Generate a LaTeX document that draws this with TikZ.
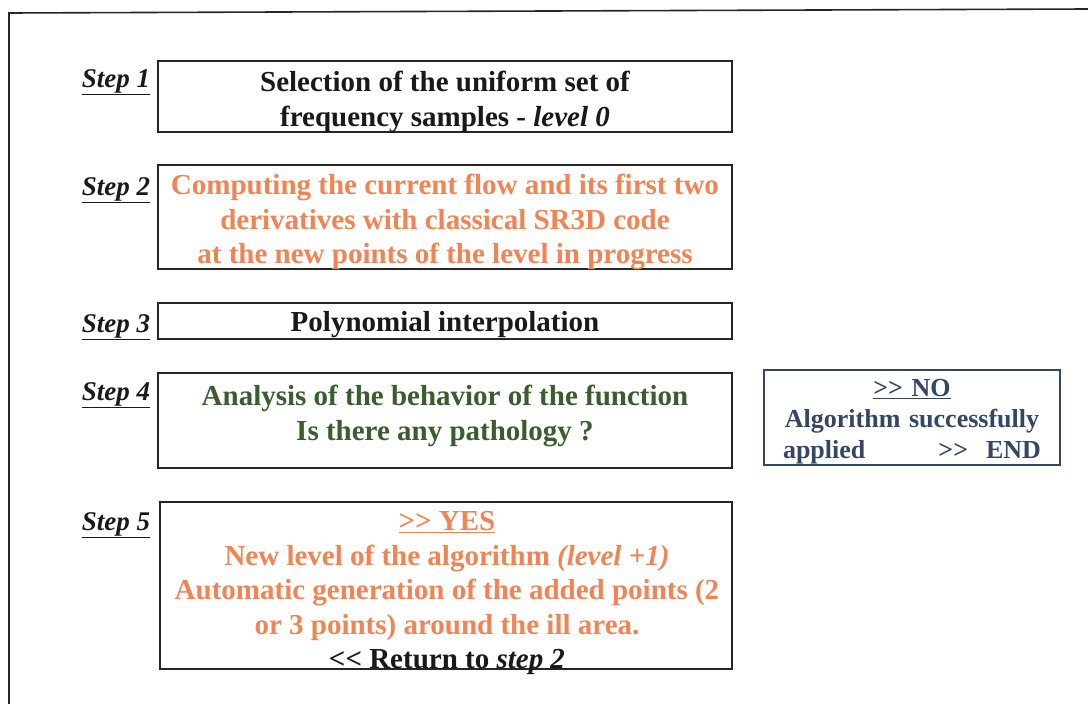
\documentclass[tikz,border=0pt]{standalone}
\usepackage{fontspec}
\setmainfont{Liberation Serif}
\definecolor{orng}{RGB}{240,132,84}
\definecolor{grn}{RGB}{58,92,46}
\definecolor{bluegr}{RGB}{52,70,98}
\definecolor{txtdark}{RGB}{25,25,25}
\tikzset{
  stepbox/.style={draw=black!85, line width=1.6pt, inner sep=0pt},
  steplabel/.style={font=\fontsize{27}{30}\selectfont\bfseries\itshape, text=txtdark, inner sep=0pt},
  boxtext/.style={font=\fontsize{29}{34.5}\selectfont\bfseries, align=center, inner sep=0pt},
}
\begin{document}
\begin{tikzpicture}[x=1pt,y=-1pt]
\useasboundingbox (0,0) rectangle (1088,704);
% outer frame
\coordinate (fa) at (1088,9);
\coordinate (fb) at (9,13);
\coordinate (fc) at (9,704);
\draw[line width=1.6pt, black!85] (fa) -- (fb) -- (fc);

% boxes
\node[stepbox, minimum width=574, minimum height=71] (box1) at (445,96.5) {};
\node[stepbox, minimum width=574, minimum height=104] (box2) at (445,217) {};
\node[stepbox, minimum width=574, minimum height=36] (box3) at (445,321) {};
\node[stepbox, minimum width=574, minimum height=95] (box4) at (445,420.5) {};
\node[stepbox, minimum width=572, minimum height=167] (box5) at (446,585.5) {};
\node[stepbox, draw=bluegr, minimum width=296, minimum height=95] (box6) at (912,417.5) {};

% step labels
\node[steplabel] (s1) at (116,82) {\underline{Step 1}};
\node[steplabel] (s2) at (116,190) {\underline{Step 2}};
\node[steplabel] (s3) at (116,327) {\underline{Step 3}};
\node[steplabel] (s4) at (116,395) {\underline{Step 4}};
\node[steplabel] (s5) at (116,525) {\underline{Step 5}};

% texts
\node[boxtext, text=txtdark] (t1) at (445,102) {Selection of the uniform set of\\frequency samples - \textit{level 0}};
\node[boxtext, text=orng] (t2) at (445,222) {Computing the current flow and its first two\\derivatives with classical SR3D code\\at the new points of the level in progress};
\node[boxtext, text=txtdark] (t3) at (445,325) {Polynomial interpolation};
\node[boxtext, text=grn] (t4) at (445,416) {Analysis of the behavior of the function\\Is there any pathology ?};
\node[boxtext, text=orng] (t5) at (447,593) {\underline{{>}{>} YES}\\New level of the algorithm \textit{(level +1)}\\Automatic generation of the added points (2\\or 3 points) around the ill area.\\\textcolor{txtdark}{{<}{<} Return to \textit{step 2}}};
\node[font=\fontsize{26}{31}\selectfont\bfseries, text=bluegr, align=center, inner sep=0pt, text width=258] (t6) at (912,422) {\underline{{>}{>} NO}\\Algorithm successfully\\applied\hfill{>}{>}\hspace{18pt}END};
\end{tikzpicture}
\end{document}
